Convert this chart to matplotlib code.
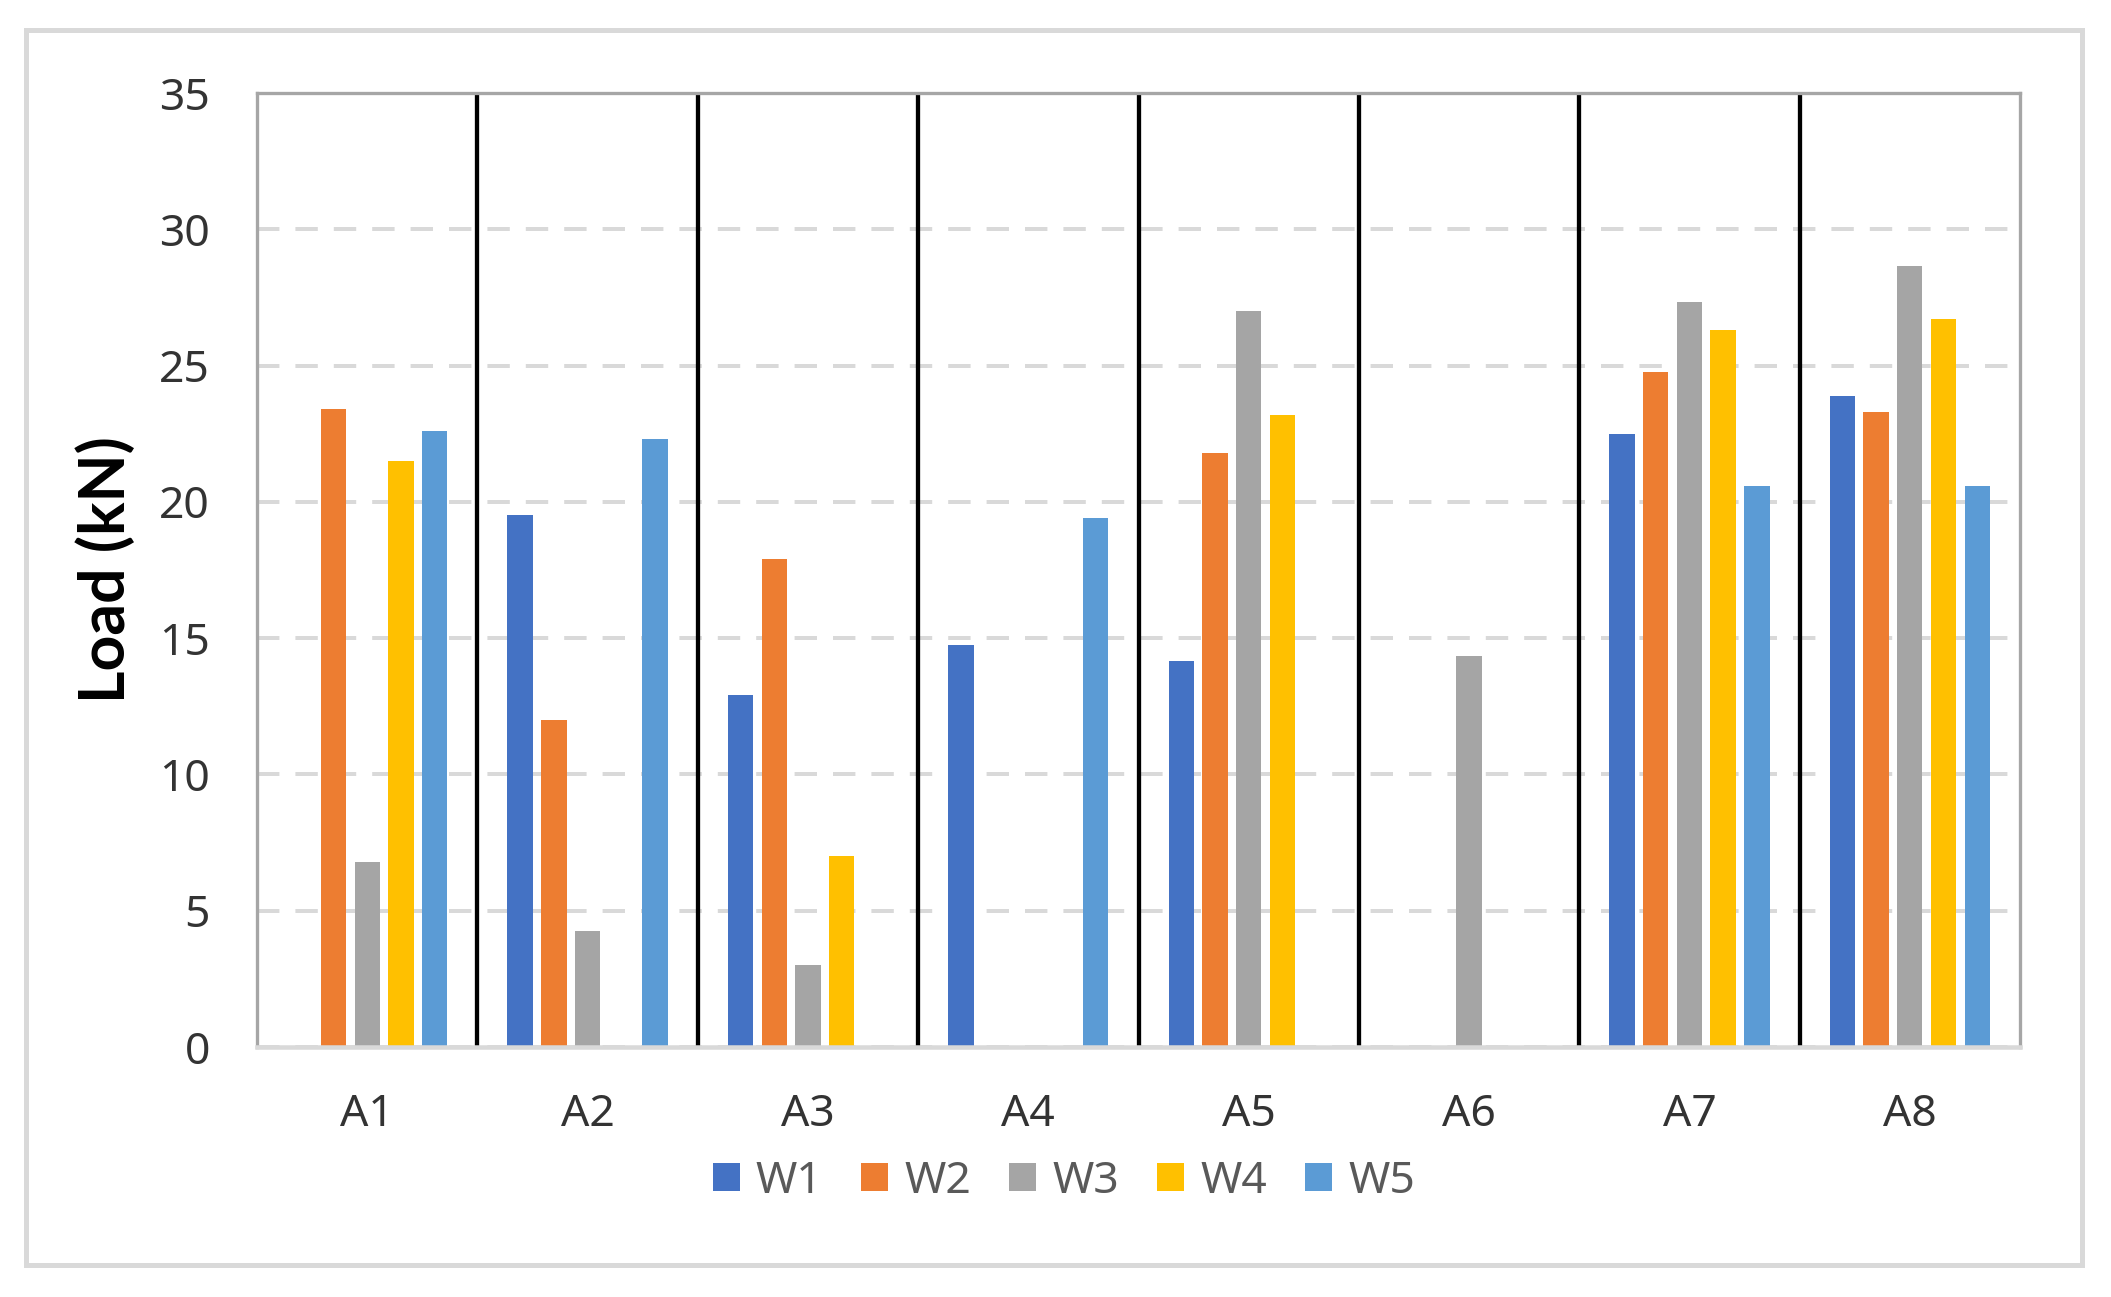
import matplotlib
matplotlib.use("Agg")
import matplotlib.pyplot as plt
from matplotlib.patches import Rectangle
from matplotlib import font_manager
import numpy as np

plt.rcParams['font.family'] = ['Noto Sans', 'DejaVu Sans']

categories = ["A1", "A2", "A3", "A4", "A5", "A6", "A7", "A8"]
series_names = ["W1", "W2", "W3", "W4", "W5"]
W1 = [0.0, 19.5, 12.9, 14.75, 14.15, 0.0, 22.5, 23.9]
W2 = [23.4, 12.0, 17.9, 0.0, 21.8, 0.0, 24.75, 23.3]
W3 = [6.8, 4.25, 3.0, 0.0, 27.0, 14.35, 27.35, 28.65]
W4 = [21.5, 0.0, 7.0, 0.0, 23.2, 0.0, 26.3, 26.7]
W5 = [22.6, 22.3, 0.0, 19.4, 0.0, 0.0, 20.6, 20.6]
series_values = [W1, W2, W3, W4, W5]
colors = ["#4472C4", "#ED7D31", "#A5A5A5", "#FFC000", "#5B9BD5"]
yticks = [0, 5, 10, 15, 20, 25, 30, 35]

# pick a bold font that is really installed with bold weight
bold_family = "DejaVu Sans"
for fam in ["Lato", "Open Sans", "Noto Sans", "Liberation Sans"]:
    try:
        fp = font_manager.FontProperties(family=fam, weight="bold")
        path = font_manager.findfont(fp, fallback_to_default=False)
        if "bold" in path.lower() or "black" in path.lower() or "heavy" in path.lower():
            bold_family = fam
            break
    except Exception:
        pass

W, H = 2111, 1297
fig = plt.figure(figsize=(W / 100, H / 100), dpi=100)
px = 72 / 100  # points per pixel

# outer chart border
fig.patches.append(Rectangle((26 / W, 1 - 1265 / H), (2082 - 26) / W, (1265 - 30) / H,
                             transform=fig.transFigure, fill=False,
                             edgecolor="#d9d9d9", linewidth=5 * px, zorder=0))

ax = fig.add_axes([257 / W, 1 - 1047 / H, (2020 - 257) / W, (1047 - 93) / H])

x = np.arange(len(categories))
spacing = 0.153
width = 0.115
for i, (name, vals, c) in enumerate(zip(series_names, series_values, colors)):
    ax.bar(x + (i - 2) * spacing, vals, width=width, color=c, label=name, zorder=3,
           linewidth=0)

for b in np.arange(0.5, len(categories) - 0.5, 1.0):
    ax.axvline(b, color="black", linewidth=4.3 * px, zorder=4)

ax.set_xlim(-0.5, len(categories) - 0.5)
ax.set_ylim(0, 35)
ax.set_yticks(yticks)
ax.set_xticks(x)
ax.set_xticklabels(categories)

ax.set_axisbelow(True)
ax.yaxis.grid(True, color="#d9d9d9", linewidth=4 * px, linestyle=(0, (5.6, 4.0)))
ax.xaxis.grid(False)

ax.tick_params(axis="both", length=0, labelsize=32, colors="#333333")
ax.tick_params(axis="y", pad=34)
ax.tick_params(axis="x", pad=33)

for s in ["left", "top", "right"]:
    ax.spines[s].set_color("#a6a6a6")
    ax.spines[s].set_linewidth(3.3 * px)
ax.spines["bottom"].set_color("#d9d9d9")
ax.spines["bottom"].set_linewidth(4.5 * px)
for s in ax.spines.values():
    s.set_zorder(5)

fig.text(106 / W, 1 - 570 / H, "Load (kN)", rotation=90, ha="center", va="center",
         fontsize=45, fontweight="bold", family=[bold_family, "DejaVu Sans"], color="black")

handles, labels = ax.get_legend_handles_labels()
leg = fig.legend(handles, labels, loc="center", bbox_to_anchor=(1064 / W, 1 - 1182 / H),
                 ncol=5, frameon=False, fontsize=32, handlelength=0.6, handleheight=0.6,
                 handletextpad=0.37, columnspacing=0.86, borderaxespad=0, borderpad=0)
for t in leg.get_texts():
    t.set_color("#595959")

fig.savefig("out.png", dpi=100, facecolor="white")
